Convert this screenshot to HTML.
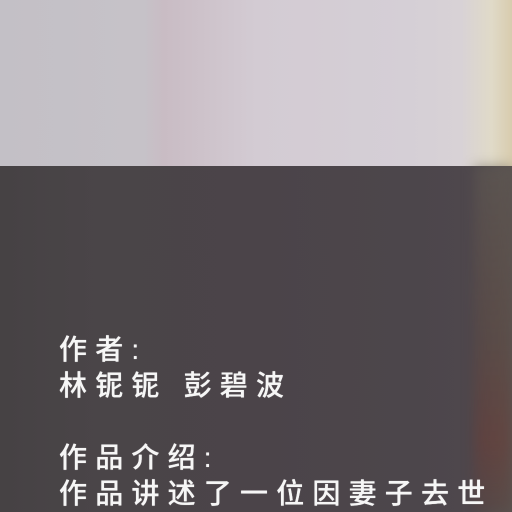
<!DOCTYPE html>
<html><head><meta charset="utf-8"><style>
html,body{margin:0;padding:0}
body{width:512px;height:512px;overflow:hidden;position:relative;font-family:"Liberation Sans","Noto Sans CJK SC",sans-serif}
#top{position:absolute;left:0;top:0;width:512px;height:166px;
background:linear-gradient(90deg,#c3c0c6 0%,#c6c2c8 28%,#c9bcc4 32%,#d3cbd3 50%,#d5cfd6 80%,#d8d2d6 90%,#e0dac8 96%,#d8ccae 100%)}
#bot{position:absolute;left:0;top:166px;width:512px;height:346px;
background:linear-gradient(90deg,#464244 0%,#4a4548 20%,#4b4449 50%,#4c464b 80%,#4e474c 92%,#57504f 97%,#5a5350 100%)}
#redge{position:absolute;left:474px;top:166px;width:38px;height:346px;background:linear-gradient(180deg,rgba(95,88,82,0.5),rgba(95,70,62,0.4) 50%,rgba(110,55,48,0.45) 80%,rgba(90,60,55,0.3));filter:blur(6px)}
.t{position:absolute;left:59px;color:#f6f6f6;font-family:"Liberation Sans","Noto Sans CJK SC",sans-serif;font-size:28px;font-weight:500;letter-spacing:8.2px;line-height:36px;white-space:nowrap;text-shadow:0 0 0.6px #fff}
</style></head><body>
<div id="top"></div>
<div id="bot"></div>
<div id="redge"></div>
<div class="t" style="top:332px">作者:</div>
<div class="t" style="top:368px">林铌铌 彭碧波</div>
<div class="t" style="top:440px">作品介绍:</div>
<div class="t" style="top:476px">作品讲述了一位因妻子去世</div>
</body></html>
